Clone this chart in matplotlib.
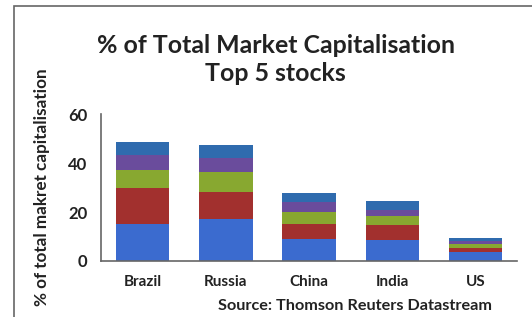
import matplotlib
matplotlib.use("Agg")
import matplotlib.pyplot as plt
from matplotlib.patches import Rectangle
import numpy as np

# Cumulative tops, converted to per-stock shares (%)
countries = ["Brazil", "Russia", "China", "India", "US"]
stock1 = [15.2, 17.2, 9.1, 8.6, 3.8]
stock2 = [14.8, 11.1, 6.1, 5.9, 1.4]
stock3 = [7.3, 8.2, 5.0, 3.8, 1.8]
stock4 = [6.1, 5.5, 4.0, 2.6, 1.3]
stock5 = [5.1, 5.5, 3.4, 3.8, 1.2]
yticks = [0, 20, 40, 60]

colors = ["#3b6bcf", "#a2302e", "#88a830", "#6a4c9c", "#2f6bae"]

plt.rcParams["font.family"] = ["Lato", "DejaVu Sans"]
plt.rcParams["font.weight"] = "bold"

fig = plt.figure(figsize=(5.32, 3.17), dpi=100)
ax = fig.add_axes([0.190, 0.1767, 0.782, 0.4633])

x = np.arange(len(countries))
bottom = np.zeros(len(countries))
for vals, c in zip([stock1, stock2, stock3, stock4, stock5], colors):
    ax.bar(x, vals, 0.64, bottom=bottom, color=c, edgecolor="none")
    bottom += np.array(vals)

ax.set_xlim(-0.5, 4.5)
ax.set_ylim(0, 60)
ax.set_yticks(yticks)
ax.set_xticks(x)
ax.set_xticklabels(countries, fontsize=11, fontweight="bold", color="#222222")
ax.set_yticklabels([str(t) for t in yticks], fontsize=12, fontweight="bold", color="#222222")
ax.tick_params(length=0, pad=10)
ax.tick_params(axis="x", pad=10)
for s in ["top", "right"]:
    ax.spines[s].set_visible(False)
for s in ["left", "bottom"]:
    ax.spines[s].set_color("#666666")
    ax.spines[s].set_linewidth(1.2)

ax.set_ylabel("% of total makret capitalisation", fontsize=12.3, fontweight="bold",
              color="#222222")
ax.yaxis.set_label_coords(-0.122, 0.5)

fig.text(0.518, 0.855, "% of Total Market Capitalisation", ha="center", va="center",
         fontsize=17.9, fontweight="bold", color="#222222")
fig.text(0.518, 0.768, "Top 5 stocks", ha="center", va="center",
         fontsize=17.9, fontweight="bold", color="#222222")
fig.text(0.925, 0.035, "Source: Thomson Reuters Datastream", ha="right", va="center",
         fontsize=11.7, fontweight="bold", color="#222222")

# outer chart frame
fig.patches.append(Rectangle((14 / 532, -0.1), 1.2, 1.1 - 6 / 317, transform=fig.transFigure,
                             fill=False, edgecolor="#666666", linewidth=1.2))

fig.savefig("out.png", dpi=100)
